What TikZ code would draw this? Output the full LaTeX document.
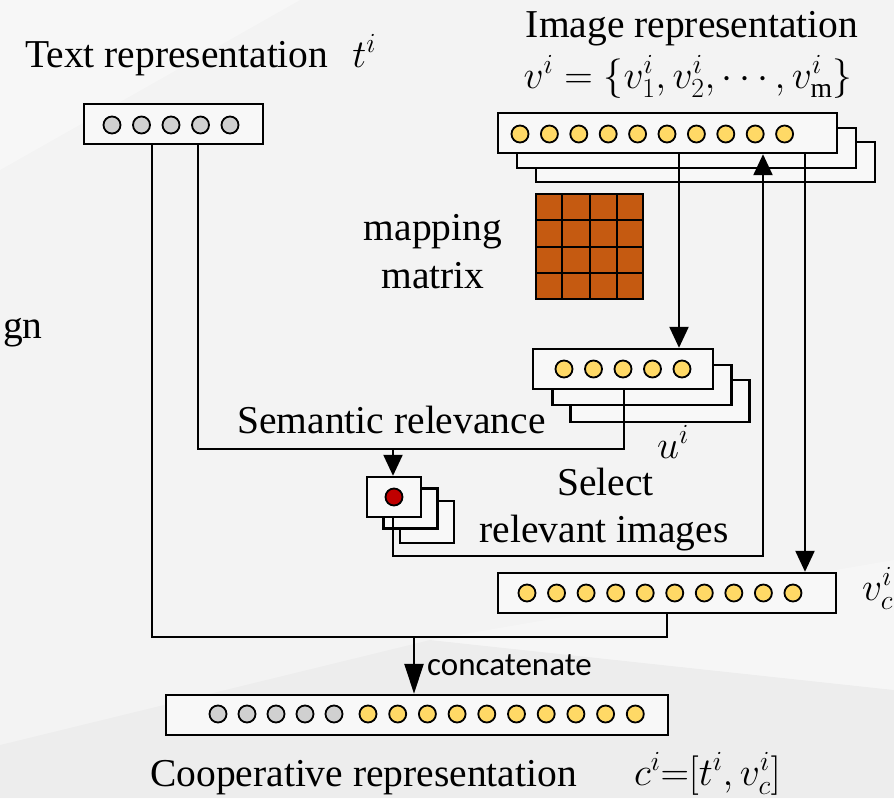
\RequirePackage{fix-cm}
\documentclass[tikz,border=0pt]{standalone}
\usepackage{fontspec}
\setmainfont{Liberation Serif}
\newfontfamily\calib{Carlito}
\usetikzlibrary{arrows.meta,calc}

\definecolor{bg}{HTML}{F3F3F3}
\definecolor{cellfill}{HTML}{FFD966}
\definecolor{greyfill}{HTML}{D0D0D0}
\definecolor{matfill}{HTML}{C55A11}
\definecolor{dotred}{HTML}{C00000}
\definecolor{boxfill}{HTML}{F8F8F8}

\begin{document}
\begin{tikzpicture}[x=1pt,y=-1pt,
  vecbox/.style={draw=black,line width=2.4pt,fill=boxfill,minimum height=40pt,inner sep=0pt},
  unit/.style={circle,draw=black,line width=1.8pt,minimum size=17pt,inner sep=0pt},
  yel/.style={unit,fill=cellfill},
  gry/.style={unit,fill=greyfill},
  wire/.style={line width=2.3pt},
  arr/.style={wire,-{Triangle[length=21pt,width=19pt]}},
  lbl/.style={font=\fontsize{39.5}{48}\selectfont,inner sep=0pt},
]
% canvas
\useasboundingbox (0,0) rectangle (894,798);
\fill[bg] (0,0) rectangle (894,798);
\fill[white,opacity=0.35] (0,0) -- (300,0) -- (0,170) -- cycle;
\fill[black,opacity=0.025] (0,798) -- (0,745) -- (430,640) -- (894,690) -- (894,798) -- cycle;
\fill[white,opacity=0.3] (430,640) -- (894,690) -- (894,560) -- cycle;

% text representation
\node[lbl,anchor=base west] (tlab) at (25,67) {Text representation\hspace{24pt}$t^i$};
\node[vecbox,minimum width=179pt] (tv) at (173.5,124) {};
\foreach \k in {0,...,4} \node[gry] (tvc\k) at (112+29.5*\k,125) {};

% image representation (stack of three)
\node[lbl,anchor=base] (ilab) at (692,37) {Image representation};
\node[lbl,anchor=base] (iset) at (688,88) {$v^i=\{v_1^i,v_2^i,\cdots,v_{\mathrm{m}}^i\}$};
\node[vecbox,minimum width=339pt] (iv3) at (705.5,162) {};
\node[vecbox,minimum width=339pt] (iv2) at (686.5,148) {};
\node[vecbox,minimum width=339pt] (iv) at (667.5,133) {};
\foreach \k in {0,...,9} \node[yel] (ivc\k) at (520+29.4*\k,134) {};

% mapping matrix
\node[lbl,anchor=base] (mlab1) at (433,240) {mapping};
\node[lbl,anchor=base] (mlab2) at (433,288) {matrix};
\node[draw=black,line width=2pt,fill=matfill,minimum width=107pt,minimum height=105pt,inner sep=0pt] (mat) at (589.5,246.5) {};
\foreach \k in {1,2,3} {
  \draw[line width=2pt] ($(mat.north west)!\k/4!(mat.north east)$) -- ($(mat.south west)!\k/4!(mat.south east)$);
  \draw[line width=2pt] ($(mat.north west)!\k/4!(mat.south west)$) -- ($(mat.north east)!\k/4!(mat.south east)$);
}

% mapped vectors u
\node[vecbox,minimum width=179pt,minimum height=42pt] (u3) at (660,401) {};
\node[vecbox,minimum width=179pt] (u2) at (642,385) {};
\node[vecbox,minimum width=180pt] (u) at (623,369) {};
\foreach \k in {0,...,4} \node[yel] (uc\k) at (564+29.5*\k,369) {};
\node[lbl,anchor=base west] (ulab) at (657,458) {$u^i$};

% semantic relevance scores
\node[lbl,anchor=base] (slab) at (391.5,433) {Semantic relevance};
\node[vecbox,minimum width=54pt,minimum height=42pt] (rb3) at (427,522) {};
\node[vecbox,minimum width=54pt] (rb2) at (410.5,508.5) {};
\node[vecbox,minimum width=54pt] (rb) at (394,497) {};
\node[unit,fill=dotred] (rd) at (394,497) {};
\node[lbl,anchor=base] (sel1) at (605.5,495) {Select};
\node[lbl,anchor=base] (sel2) at (604,542) {relevant images};

% selected image vector
\node[vecbox,minimum width=338pt] (vc) at (667,593) {};
\foreach \k in {0,...,9} \node[yel] (vcc\k) at (527+29.55*\k,593) {};
\node[lbl,anchor=base west] (vclab) at (862,600) {$v_c^i$};

% cooperative vector
\node[vecbox,minimum width=502pt] (cb) at (417,715) {};
\foreach \k in {0,...,4} \node[gry] (cbg\k) at (218+29*\k,714) {};
\foreach \k in {0,...,9} \node[yel] (cby\k) at (368+29.7*\k,714) {};
\node[lbl,anchor=base west] (clab) at (150,786) {Cooperative representation};
\node[lbl,anchor=base west] (cmath) at (634,785) {$c^i{=}[t^i,v_c^i]$};

\node[lbl,anchor=base west] (frag) at (3,338) {gn};

% connectors
\coordinate (jA) at (152,637);
\coordinate (jB) at (667,637);
\coordinate (jC) at (414,637);
\draw[wire] (tv.south -| jA) -- (jA) -- (jB) -- (vc.south -| jB);
\draw[wire,-{Triangle[length=30pt,width=19pt]}] (jC) -- (cb.north -| jC);
\node[font=\calib\fontsize{33}{40}\selectfont,anchor=base west,inner sep=0pt] (cat) at (427,675) {concatenate};

\coordinate (sA) at (198,449);
\coordinate (sB) at (624,449);
\coordinate (sC) at (393,449);
\draw[wire] (tv.south -| sA) -- (sA) -- (sB) -- (u.south -| sB);
\draw[arr] (sC) -- (rb.north -| sC);

\coordinate (rA) at (393,556);
\coordinate (rB) at (763,556);
\draw[arr] (rb.south -| rA) -- (rA) -- (rB) -- (iv.south -| rB);

\coordinate (dA) at (679,300);
\coordinate (dB) at (805,300);
\draw[arr] (iv.south -| dA) -- (u.north -| dA);
\draw[arr] (iv.south -| dB) -- (vc.north -| dB);
\end{tikzpicture}
\end{document}
